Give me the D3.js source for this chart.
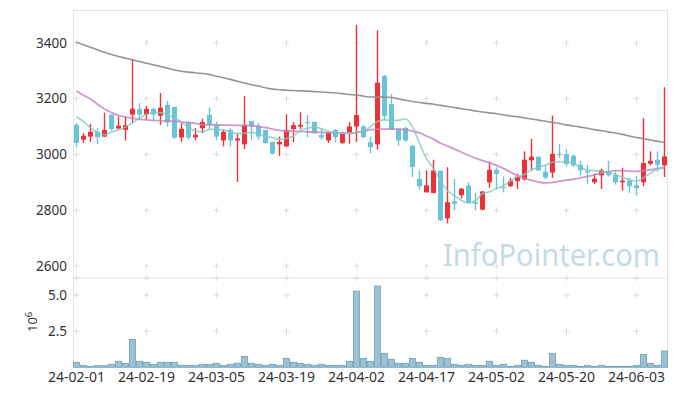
<!DOCTYPE html>
<html lang="en">
<head>
<meta charset="utf-8">
<script src="https://d3js.org/d3.v7.min.js"></script>
<style type="text/css">
body {
	margin: 0;
	background-color: #fff;
}
svg text {
	font-family: "Noto Sans", sans-serif;
}
</style>
</head>
<body>
<div class="chart"></div>
<script type="text/javascript">
// trading days
var dates = ["24-02-01","24-02-02","24-02-05","24-02-06","24-02-07","24-02-08","24-02-13","24-02-14","24-02-15","24-02-16",
	"24-02-19","24-02-20","24-02-21","24-02-22","24-02-23","24-02-26","24-02-27","24-02-28","24-02-29","24-03-04",
	"24-03-05","24-03-06","24-03-07","24-03-08","24-03-11","24-03-12","24-03-13","24-03-14","24-03-15","24-03-18",
	"24-03-19","24-03-20","24-03-21","24-03-22","24-03-25","24-03-26","24-03-27","24-03-28","24-03-29","24-04-01",
	"24-04-02","24-04-03","24-04-04","24-04-05","24-04-08","24-04-09","24-04-11","24-04-12","24-04-15","24-04-16",
	"24-04-17","24-04-18","24-04-19","24-04-22","24-04-23","24-04-24","24-04-25","24-04-26","24-04-29","24-04-30",
	"24-05-02","24-05-03","24-05-07","24-05-08","24-05-09","24-05-10","24-05-13","24-05-14","24-05-16","24-05-17",
	"24-05-20","24-05-21","24-05-22","24-05-23","24-05-24","24-05-27","24-05-28","24-05-29","24-05-30","24-05-31",
	"24-06-03","24-06-04","24-06-05","24-06-07","24-06-10"];
var tickDates = ["24-02-01","24-02-19","24-03-05","24-03-19","24-04-02","24-04-17","24-05-02","24-05-20","24-06-03"];

var opens = [3106,3053,3064,3081,3064,3142,3093,3088,3143,3163,
	3143,3163,3139,3178,3170,3061,3117,3061,3094,3142,
	3105,3050,3088,3050,3036,3120,3103,3088,3045,3036,
	3029,3091,3100,3116,3117,3070,3050,3088,3041,3076,
	3100,3100,3044,3036,3281,3181,3092,3095,3031,2912,
	2864,2862,2942,2771,2832,2854,2889,2829,2802,2900,
	2945,2883,2886,2904,2910,2979,2992,2938,2935,3002,
	3001,2995,2963,2941,2900,2925,2939,2926,2900,2906,
	2889,2900,2967,2981,2961];
var highs = [3112,3076,3110,3094,3150,3144,3136,3136,3343,3184,
	3174,3169,3220,3192,3170,3112,3117,3094,3128,3169,
	3118,3088,3094,3076,3209,3120,3112,3088,3045,3064,
	3144,3116,3151,3141,3117,3094,3082,3091,3081,3116,
	3464,3106,3064,3445,3285,3217,3094,3098,3034,2943,
	2943,2981,2942,2954,2912,2880,2900,2862,2869,2975,
	2954,2921,2916,2931,3011,3056,2992,2961,3139,3037,
	3020,3000,2977,2963,2931,2949,2977,2939,2952,2916,
	2924,3130,3011,3011,3241];
var lows = [3026,3041,3045,3037,3062,3086,3091,3050,3112,3124,
	3124,3120,3106,3100,3055,3044,3053,3050,3076,3088,
	3050,3029,3029,2901,3019,3053,3053,3038,3000,2995,
	3026,3044,3091,3062,3074,3053,3041,3044,3038,3038,
	3044,3059,3005,3017,3124,3088,3031,3045,2919,2874,
	2864,2860,2762,2753,2800,2842,2824,2800,2800,2880,
	2874,2864,2884,2876,2907,2943,2941,2912,2916,2987,
	2957,2954,2925,2894,2894,2876,2921,2892,2870,2862,
	2853,2886,2961,2939,2919];
var closes = [3041,3067,3081,3062,3088,3091,3103,3105,3164,3143,
	3163,3143,3167,3114,3060,3092,3060,3070,3116,3106,
	3064,3081,3050,3057,3105,3100,3064,3041,3003,3045,
	3088,3105,3106,3113,3076,3061,3079,3062,3076,3100,
	3141,3062,3026,3257,3138,3091,3050,3050,2955,2886,
	2889,2942,2764,2829,2823,2877,2826,2823,2867,2945,
	2930,2880,2906,2921,2981,2992,2943,2917,3002,3000,
	2966,2961,2943,2936,2913,2943,2925,2900,2906,2886,
	2879,2969,2977,2963,2993];
// volume in millions
var volumes = [0.35,0.14,0.05,0.11,0.11,0.21,0.42,0.28,1.94,0.42,
	0.35,0.21,0.35,0.35,0.35,0.14,0.14,0.14,0.21,0.21,
	0.28,0.14,0.21,0.28,0.76,0.28,0.21,0.14,0.21,0.14,
	0.62,0.35,0.28,0.21,0.14,0.21,0.14,0.14,0.14,0.42,
	5.28,0.62,0.42,5.63,0.97,0.56,0.28,0.28,0.62,0.35,
	0.14,0.14,0.69,0.62,0.21,0.14,0.21,0.14,0.14,0.42,
	0.14,0.21,0.05,0.14,0.49,0.35,0.14,0.05,0.97,0.21,
	0.14,0.14,0.05,0.14,0.05,0.14,0.05,0.05,0.05,0.05,
	0.14,0.90,0.28,0.14,1.13];

// moving averages
var maShort = [3134,3118,3095,3078,3070,3080,3088,3098,3114,3130,
	3144,3150,3150,3142,3130,3116,3096,3084,3082,3090,
	3090,3088,3080,3075,3076,3079,3073,3066,3060,3054,
	3057,3066,3086,3094,3098,3092,3083,3079,3076,3076,
	3080,3083,3100,3118,3124,3122,3122,3128,3098,3040,
	2985,2950,2905,2870,2852,2835,2826,2834,2860,2866,
	2878,2888,2905,2921,2928,2945,2953,2962,2972,2974,
	2973,2968,2953,2944,2942,2939,2935,2928,2918,2908,
	2904,2917,2933,2948,2958];
var maMid = [3227,3212,3199,3180,3163,3150,3140,3134,3130,3126,
	3124,3122,3121,3120,3119,3117,3114,3111,3107,3106,
	3106,3105,3105,3104,3104,3103,3100,3096,3091,3086,
	3084,3083,3082,3081,3080,3079,3078,3076,3076,3076,
	3078,3083,3088,3091,3091,3091,3091,3089,3084,3077,
	3066,3055,3040,3030,3019,3008,2997,2987,2978,2970,
	2961,2950,2937,2923,2914,2907,2901,2898,2900,2904,
	2908,2911,2916,2921,2927,2933,2938,2942,2942,2940,
	2939,2942,2945,2949,2952];
var maLong = [3403,3393,3384,3375,3366,3358,3351,3345,3339,3333,
	3327,3321,3315,3309,3303,3298,3295,3293,3290,3286,
	3280,3275,3269,3262,3256,3250,3245,3239,3234,3232,
	3230,3229,3228,3227,3225,3224,3222,3220,3218,3215,
	3213,3209,3206,3206,3205,3204,3199,3194,3190,3186,
	3183,3180,3176,3172,3168,3164,3160,3156,3152,3149,
	3146,3142,3138,3135,3131,3127,3123,3119,3115,3111,
	3106,3102,3098,3094,3089,3085,3081,3077,3072,3066,
	3061,3056,3052,3047,3043];

var priceTicks = [2600, 2800, 3000, 3200, 3400];
var volumeTicks = [2.5, 5.0];

var width = 677, height = 396;
var plotLeft = 73, plotRight = 668, plotTop = 10.5, plotMid = 278, plotBottom = 367.3;
var upColor = "#ee3138", downColor = "#6cc3d9";
var frameColor = "#e4e4e4", crossColor = "#dcdcdc";

var svg = d3.select(".chart")
	.append("svg")
	.attr("width", width)
	.attr("height", height);

var x = d3.scaleBand().domain(dates).range([plotLeft, plotRight]);
var cx = function(d) { return x(d) + x.bandwidth() / 2; };
var y = d3.scaleLinear().domain([2557, 3516]).range([plotMid, plotTop]);
var yv = d3.scaleLinear().domain([0, 6.19]).range([plotBottom, plotMid]);

var data = dates.map(function(d, i) {
	return { date: d, o: opens[i], h: highs[i], l: lows[i], c: closes[i], v: volumes[i] };
});

// frame
var frame = svg.append("g").attr("stroke", frameColor).attr("stroke-width", 1);
frame.append("line").attr("x1", plotLeft + 0.5).attr("x2", plotLeft + 0.5).attr("y1", plotTop).attr("y2", plotBottom);
frame.append("line").attr("x1", plotRight - 0.5).attr("x2", plotRight - 0.5).attr("y1", plotTop).attr("y2", plotBottom);
frame.append("line").attr("x1", plotLeft).attr("x2", plotRight).attr("y1", plotTop).attr("y2", plotTop);
frame.append("line").attr("x1", plotLeft).attr("x2", plotRight).attr("y1", plotMid).attr("y2", plotMid);

// grid crosses
var crossPts = [];
tickDates.forEach(function(d) {
	priceTicks.forEach(function(t) { crossPts.push([cx(d), y(t)]); });
	volumeTicks.forEach(function(t) { crossPts.push([cx(d), yv(t)]); });
	crossPts.push([cx(d), plotMid]);
});
svg.append("g")
	.selectAll("path")
	.data(crossPts)
	.enter()
	.append("path")
	.attr("d", function(p) {
		return "M" + (p[0] - 3) + "," + p[1] + "h6M" + p[0] + "," + (p[1] - 3) + "v6";
	})
	.attr("stroke", crossColor)
	.attr("stroke-width", 1);

// watermark
svg.append("text")
	.attr("x", 660)
	.attr("y", 266)
	.attr("text-anchor", "end")
	.attr("textLength", 217)
	.attr("lengthAdjust", "spacingAndGlyphs")
	.style("font-size", "31px")
	.style("fill", "#c6dae5")
	.text("InfoPointer.com");

// axis labels
var yAxis = d3.axisLeft(y).tickValues(priceTicks).tickFormat(d3.format("d")).tickSize(0).tickPadding(6);
svg.append("g")
	.attr("transform", "translate(" + plotLeft + ",0)")
	.call(yAxis)
	.call(function(g) { g.select(".domain").remove(); })
	.selectAll("text")
	.style("font-size", "13.5px")
	.style("fill", "#333");

var vAxis = d3.axisLeft(yv).tickValues(volumeTicks).tickFormat(d3.format(".1f")).tickSize(0).tickPadding(6);
svg.append("g")
	.attr("transform", "translate(" + plotLeft + ",0)")
	.call(vAxis)
	.call(function(g) { g.select(".domain").remove(); })
	.selectAll("text")
	.style("font-size", "13.5px")
	.style("fill", "#333");

var xAxis = d3.axisBottom(x).tickValues(tickDates).tickSize(0).tickPadding(5);
svg.append("g")
	.attr("transform", "translate(0," + plotBottom + ")")
	.call(xAxis)
	.call(function(g) { g.select(".domain").remove(); })
	.selectAll("text")
	.style("font-size", "14px")
	.style("fill", "#333");

var unit = svg.append("text")
	.attr("transform", "translate(37,332) rotate(-90)")
	.style("font-size", "13px")
	.style("fill", "#333");
unit.append("tspan").text("10");
unit.append("tspan").attr("dy", -5).style("font-size", "9.5px").text("6");

// volume bars
svg.append("g")
	.selectAll("rect")
	.data(data)
	.enter()
	.append("rect")
	.attr("x", function(d) { return x(d.date) + 0.5; })
	.attr("width", x.bandwidth() - 1)
	.attr("y", function(d) { return yv(d.v); })
	.attr("height", function(d) { return plotBottom - yv(d.v); })
	.style("fill", "#9cc1d3")
	.style("stroke", "#6e9fb7")
	.style("stroke-width", 0.8);

// candles
var candles = svg.append("g")
	.selectAll("g")
	.data(data)
	.enter()
	.append("g");

candles.append("line")
	.attr("x1", function(d) { return cx(d.date); })
	.attr("x2", function(d) { return cx(d.date); })
	.attr("y1", function(d) { return y(d.h); })
	.attr("y2", function(d) { return y(d.l); })
	.style("stroke", function(d) { return d.c >= d.o ? upColor : downColor; })
	.style("stroke-width", 1.4);

candles.append("rect")
	.attr("x", function(d) { return cx(d.date) - 2.5; })
	.attr("width", 5)
	.attr("y", function(d) { return y(Math.max(d.o, d.c)); })
	.attr("height", function(d) { return Math.max(1, Math.abs(y(d.o) - y(d.c))); })
	.style("fill", function(d) { return d.c >= d.o ? upColor : downColor; });

// moving averages
function maLine(values, color, w, op) {
	var line = d3.line()
		.x(function(v, i) { return cx(dates[i]); })
		.y(function(v) { return y(v); })
		.curve(d3.curveMonotoneX);
	svg.append("path")
		.datum(values)
		.attr("d", line)
		.style("fill", "none")
		.style("stroke", color)
		.style("stroke-width", w)
		.style("opacity", op);
}
maLine(maLong, "#8f8f8f", 1.6, 0.95);
maLine(maMid, "#c77fbf", 1.8, 0.8);
maLine(maShort, "#7fc9bd", 1.6, 0.8);
</script>
</body>
</html>
